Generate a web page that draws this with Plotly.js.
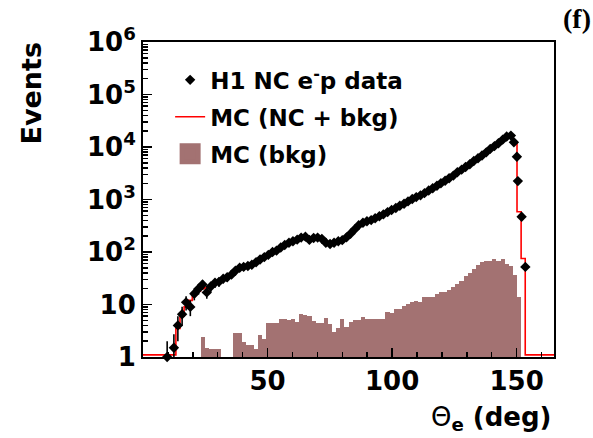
<!DOCTYPE html>
<html>
<head>
<meta charset="utf-8">
<script src="https://cdn.plot.ly/plotly-3.0.1.min.js"></script>
<style>
html,body{margin:0;padding:0;background:#fff;}
#chart{width:593px;height:438px;}
</style>
</head>
<body>
<div id="chart"></div>
<script>
// Binning of the MC histograms (theta_e in degrees)
const binWidth = 1.65;
const nBins = 100;

// H1 NC e-p data points
const dataTheta = [9.7, 12.4, 14.0, 15.7, 17.3, 19.0, 20.6, 22.3, 23.9, 25.6,
  27.2, 28.9, 30.5, 32.2, 33.8, 35.5, 37.1, 38.8, 40.4, 42.1,
  43.7, 45.4, 47.0, 48.7, 50.3, 52.0, 53.6, 55.3, 56.9, 58.6,
  60.2, 61.9, 63.5, 65.2, 66.8, 68.5, 70.1, 71.8, 73.4, 75.1,
  76.7, 78.4, 80.0, 81.7, 83.3, 85.0, 86.6, 88.3, 89.9, 91.6,
  93.2, 94.9, 96.5, 98.2, 99.8, 101.5, 103.1, 104.8, 106.4, 108.1,
  109.7, 111.4, 113.0, 114.7, 116.3, 118.0, 119.6, 121.3, 122.9, 124.6,
  126.2, 127.9, 129.5, 131.2, 132.8, 134.5, 136.1, 137.8, 139.4, 141.1,
  142.7, 144.4, 146.0, 147.7, 148.9, 150.1, 150.5, 152.0, 153.5];
const dataEvents = [1, 1.5, 4, 6.5, 11, 9, 16, 20, 24, 17,
  22, 26, 27, 31, 33, 37, 44, 50, 52, 54,
  57, 64, 72, 80, 88, 100, 106, 122, 136, 150,
  160, 172, 188, 196, 170, 185, 188, 178, 150, 142,
  150, 160, 168, 190, 222, 270, 325, 360, 385, 405,
  440, 480, 520, 575, 630, 690, 760, 830, 920, 1020,
  1110, 1200, 1320, 1480, 1640, 1830, 2040, 2280, 2540, 2850,
  3300, 3700, 4150, 4700, 5400, 6100, 6900, 7900, 9200, 10400,
  11800, 13800, 15800, 16500, 12300, 6500, 2240, 470, 52];

// MC (NC + bkg), one value per bin
const mcTotal = [1.1, 1.1, 1.1, 1.1, 1.1, 1.1, 1.1, 1.1, 3.5, 6,
  9, 12, 15, 18, 20, 21, 23, 25, 27, 30,
  33, 37, 43, 48, 52, 55, 59, 65, 72, 80,
  89, 98, 108, 120, 134, 148, 160, 172, 185, 192,
  180, 184, 186, 176, 155, 145, 150, 158, 170, 192,
  225, 268, 320, 358, 388, 410, 442, 480, 522, 572,
  628, 690, 758, 832, 918, 1015, 1110, 1205, 1325, 1475,
  1640, 1830, 2040, 2270, 2540, 2860, 3280, 3700, 4150, 4720,
  5400, 6100, 6900, 7900, 9150, 10400, 11800, 13700, 15600, 16300,
  12000, 585, 75, 1.1, 1.1, 1.1, 1.1, 1.1, 1.1, 1.1];

// MC (bkg), one value per bin
const mcBkg = [0, 0, 0, 0, 0, 0, 0, 0, 0, 0,
  0, 0, 0, 0, 2.4, 1.5, 1.4, 1.4, 1.4, 0,
  0, 0, 2.9, 2.9, 1.9, 1.7, 1.7, 1.4, 2.6, 2.2,
  4.4, 4.5, 4.4, 5.3, 5.2, 5.1, 5.2, 4.6, 6.6, 6.4,
  6.0, 4.8, 4.5, 4.4, 5.6, 4.3, 3.0, 3.6, 5.3, 3.8,
  4.6, 5.0, 5.1, 5.9, 5.3, 5.2, 5.4, 5.3, 5.3, 7.2,
  7.0, 8.1, 8.3, 9.4, 10.2, 11, 11.5, 11, 13.8, 13.6,
  14, 16, 17, 17.3, 19, 21.5, 25, 28, 35, 40,
  48, 56, 64, 67, 67, 73, 68, 72, 60, 54,
  36, 14, 0, 0, 0, 0, 0, 0, 0, 0];

const yTickVals = [1, 10, 100, 1000, 10000, 100000, 1000000];
const yTickText = ['1', '10', '10<sup>2</sup>', '10<sup>3</sup>', '10<sup>4</sup>', '10<sup>5</sup>', '10<sup>6</sup>'];
const xTickVals = [50, 100, 150];

const binCenters = [];
const binLowEdges = [];
for (let i = 0; i < nBins; i++) {
  binLowEdges.push(i * binWidth);
  binCenters.push((i + 0.5) * binWidth);
}
const stepX = binLowEdges.concat([nBins * binWidth]);
const stepY = mcTotal.concat([mcTotal[mcTotal.length - 1]]);

const bkgColor = '#a37272';
const FONT = 'DejaVu Sans, Verdana, sans-serif';

const traces = [
  {
    type: 'bar', x: binCenters, y: mcBkg, width: binWidth,
    marker: {color: bkgColor, line: {width: 0}},
    showlegend: false, hoverinfo: 'skip'
  },
  {
    type: 'scatter', mode: 'lines', x: stepX, y: stepY,
    line: {color: '#ff0000', width: 1.6, shape: 'hv'},
    name: 'MC (NC + bkg)', legendrank: 2, legendgroup: 'b'
  },
  {
    type: 'scatter', mode: 'markers', x: [null], y: [null],
    marker: {symbol: 'square', color: bkgColor, size: 16, line: {color: bkgColor, width: 5}},
    name: 'MC (bkg)', legendrank: 3, legendgroup: 'c'
  },
  {
    type: 'scatter', mode: 'markers', x: dataTheta, y: dataEvents,
    marker: {symbol: 'diamond', color: '#000', size: 8},
    error_y: {type: 'sqrt', color: '#000', thickness: 1.6, width: 0},
    error_x: {type: 'constant', value: binWidth / 2, color: '#000', thickness: 2.5, width: 0},
    cliponaxis: false,
    name: 'H1 NC e<sup>-</sup>p data', legendrank: 1, legendgroup: 'a'
  }
];

const layout = {
  width: 593, height: 438,
  margin: {l: 143, r: 39, t: 42, b: 81},
  paper_bgcolor: '#fff', plot_bgcolor: '#fff',
  font: {family: FONT, color: '#000', size: 24, weight: 'bold'},
  bargap: 0,
  showlegend: true,
  legend: {
    x: 0.066, y: 0.948, xanchor: 'left', yanchor: 'top',
    bgcolor: 'rgba(0,0,0,0)', borderwidth: 0,
    font: {family: FONT, size: 23, color: '#000', weight: 'bold'},
    tracegroupgap: 4, itemwidth: 30
  },
  xaxis: {
    range: [0, 165], showgrid: false, zeroline: false,
    showline: true, linecolor: '#000', linewidth: 2, mirror: true,
    ticks: 'inside', ticklen: 9, tickwidth: 1.5, tickcolor: '#000',
    tickmode: 'array', tickvals: xTickVals,
    tickfont: {family: FONT, size: 26, color: '#000', weight: 'bold'},
    minor: {ticks: 'inside', ticklen: 5, tickwidth: 1.5, tickcolor: '#000', dtick: 10, tick0: 0, showgrid: false}
  },
  yaxis: {
    type: 'log', range: [0, 6], showgrid: false, zeroline: false,
    showline: true, linecolor: '#000', linewidth: 2, mirror: true,
    ticks: 'inside', ticklen: 9, tickwidth: 1.5, tickcolor: '#000',
    tickmode: 'array', tickvals: yTickVals, ticktext: yTickText,
    tickfont: {family: FONT, size: 26, color: '#000', weight: 'bold'},
    minor: {ticks: 'inside', ticklen: 5, tickwidth: 1.5, tickcolor: '#000', dtick: 'D1', showgrid: false}
  },
  annotations: [
    {text: 'Events', xref: 'paper', yref: 'paper', x: -0.272, y: 1.007,
     xanchor: 'center', yanchor: 'top', textangle: -90, showarrow: false,
     font: {family: FONT, size: 27, color: '#000', weight: 'bold'}},
    {text: '<span style="font-weight:normal">Θ</span><sub>e</sub> (deg)', xref: 'paper', yref: 'paper', x: 1.0, y: -0.137,
     xanchor: 'right', yanchor: 'top', showarrow: false,
     font: {family: FONT, size: 26, color: '#000', weight: 'bold'}},
    {text: '(f)', xref: 'paper', yref: 'paper', x: 1.095, y: 1.13,
     xanchor: 'right', yanchor: 'top', showarrow: false,
     font: {family: 'Liberation Serif, Times New Roman, serif', size: 28, color: '#000', weight: 'bold'}}
  ]
};

Plotly.newPlot('chart', traces, layout, {staticPlot: true, displayModeBar: false});
</script>
</body>
</html>
